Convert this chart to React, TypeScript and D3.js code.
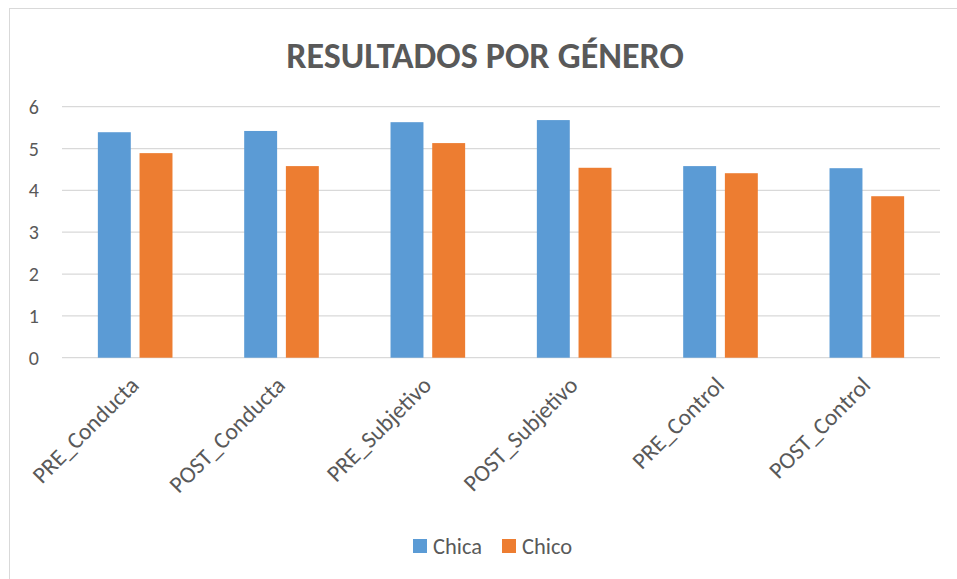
import { useEffect, useRef } from "react";
import * as d3 from "d3";

const categories = [
  "PRE_Conducta",
  "POST_Conducta",
  "PRE_Subjetivo",
  "POST_Subjetivo",
  "PRE_Control",
  "POST_Control",
];
const chica = [5.39, 5.42, 5.63, 5.68, 4.58, 4.53];
const chico = [4.89, 4.58, 5.13, 4.54, 4.41, 3.86];
const seriesNames = ["Chica", "Chico"];
const colors = ["#5B9BD5", "#ED7D31"];
const yTicks = [0, 1, 2, 3, 4, 5, 6];

const W = 957;
const H = 579;
const font = "Calibri, Carlito, 'Open Sans', sans-serif";

const App = () => {
  const ref = useRef(null);

  useEffect(() => {
    const svg = d3.select(ref.current);
    svg.selectAll("*").remove();

    const margin = { top: 107, right: 17, bottom: 220, left: 62 };
    const x = d3
      .scaleBand()
      .domain(categories)
      .range([margin.left, W - margin.right]);
    const x1 = d3
      .scaleBand()
      .domain(seriesNames)
      .range([0, x.bandwidth()])
      .paddingInner(0.21)
      .paddingOuter(0.86);
    const y = d3
      .scaleLinear()
      .domain([0, 6])
      .range([H - margin.bottom - 1.3, margin.top - 0.3]);

    // chart border
    svg
      .append("rect")
      .attr("x", 9.5)
      .attr("y", 8.5)
      .attr("width", W)
      .attr("height", H)
      .attr("fill", "white")
      .attr("stroke", "#d9d9d9");

    svg
      .append("text")
      .attr("x", 485)
      .attr("y", 68)
      .attr("text-anchor", "middle")
      .attr("font-family", font)
      .attr("font-weight", "bold")
      .attr("font-size", 36)
      .attr("fill", "#595959")
      .text("RESULTADOS POR GÉNERO");

    // grid
    svg
      .append("g")
      .selectAll("line")
      .data(yTicks)
      .join("line")
      .attr("x1", margin.left)
      .attr("x2", W - margin.right)
      .attr("y1", (d) => y(d))
      .attr("y2", (d) => y(d))
      .attr("stroke", "#d9d9d9")
      .attr("stroke-width", 1.3);

    svg
      .append("g")
      .selectAll("text")
      .data(yTicks)
      .join("text")
      .attr("x", 39)
      .attr("y", (d) => y(d))
      .attr("dy", "0.35em")
      .attr("text-anchor", "end")
      .attr("font-family", font)
      .attr("font-size", 20)
      .attr("fill", "#595959")
      .text((d) => d);

    const rows = categories.map((c, i) => ({ c, vals: [chica[i], chico[i]] }));

    svg
      .append("g")
      .selectAll("g")
      .data(rows)
      .join("g")
      .attr("transform", (d) => `translate(${x(d.c)},0)`)
      .selectAll("rect")
      .data((d) => d.vals.map((v, i) => ({ v, i })))
      .join("rect")
      .attr("x", (d) => x1(seriesNames[d.i]))
      .attr("width", x1.bandwidth())
      .attr("y", (d) => y(d.v))
      .attr("height", (d) => y(0) - y(d.v))
      .attr("fill", (d) => colors[d.i]);

    // category labels
    svg
      .append("g")
      .selectAll("text")
      .data(categories)
      .join("text")
      .attr(
        "transform",
        (d) => `translate(${x(d) + x.bandwidth() / 2 + 5},${y(0) + 29}) rotate(-45)`
      )
      .attr("text-anchor", "end")
      .attr("font-family", font)
      .attr("font-size", 23.5)
      .attr("fill", "#595959")
      .text((d) => d);

    // legend
    const legend = svg
      .append("g")
      .selectAll("g")
      .data(seriesNames)
      .join("g")
      .attr("transform", (d, i) => `translate(${413 + i * 89},539)`);
    legend
      .append("rect")
      .attr("width", 14)
      .attr("height", 14)
      .attr("fill", (d, i) => colors[i]);
    legend
      .append("text")
      .attr("x", 20)
      .attr("y", 14.5)
      .attr("font-family", font)
      .attr("font-size", 22.5)
      .attr("fill", "#595959")
      .text((d) => d);
  }, []);

  return (
    <svg
      ref={ref}
      width={W}
      height={H}
      style={{ position: "absolute", left: 0, top: 0 }}
    ></svg>
  );
};

export default App;
